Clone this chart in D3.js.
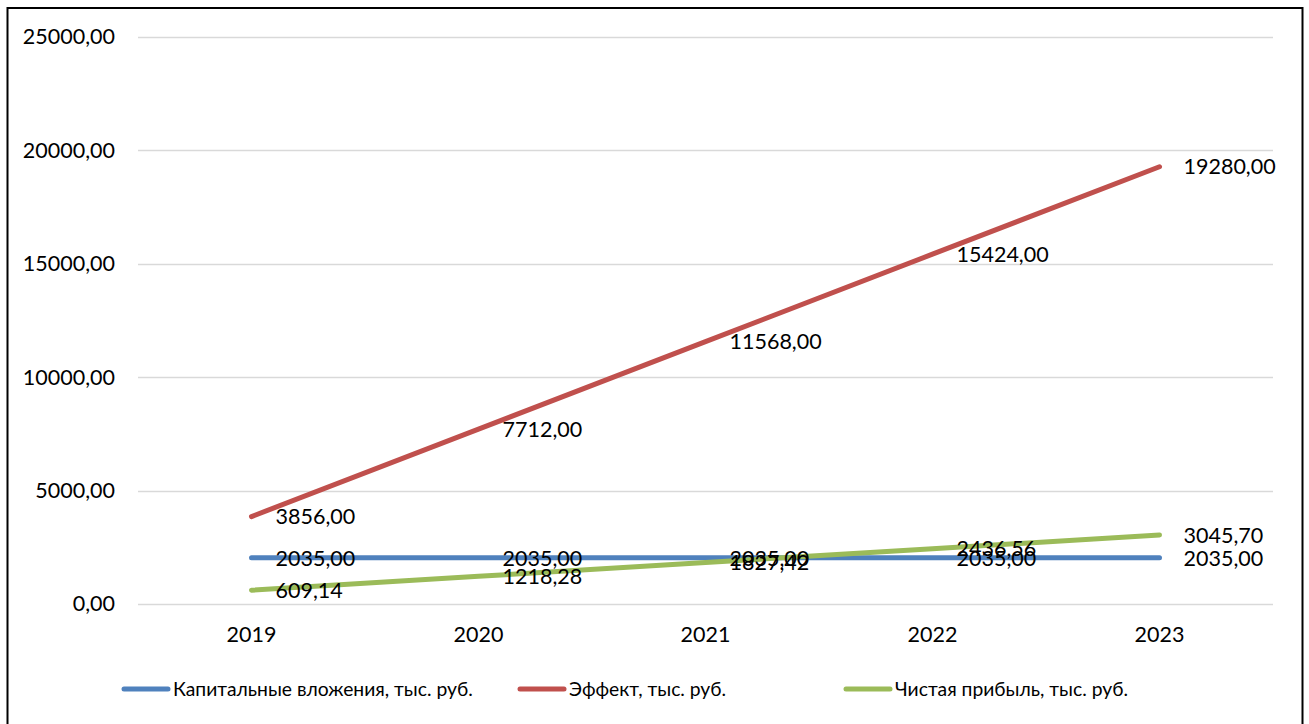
<!DOCTYPE html>
<html>
<head>
<meta charset="utf-8">
<script src="https://cdn.jsdelivr.net/npm/d3@7"></script>
<style>
  html, body { margin: 0; padding: 0; background: #fff; }
  svg { display: block; }
  text { font-family: Lato, "Open Sans", sans-serif; fill: #000; }
</style>
</head>
<body>
<svg id="chart" width="1309" height="724"></svg>
<script>
// Years on the x axis
const years = ["2019", "2020", "2021", "2022", "2023"];

// Series values, thousand roubles
const capital = [2035.00, 2035.00, 2035.00, 2035.00, 2035.00];
const effect = [3856.00, 7712.00, 11568.00, 15424.00, 19280.00];
const netProfit = [609.14, 1218.28, 1827.42, 2436.56, 3045.70];

// Series names for the legend
const seriesNames = [
  "Капитальные вложения, тыс. руб.",
  "Эффект, тыс. руб.",
  "Чистая прибыль, тыс. руб."
];

// Y axis ticks
const yTicks = [0, 5000, 10000, 15000, 20000, 25000];

const colors = ["#4F81BD", "#C0504D", "#9BBB59"];
const series = [capital, effect, netProfit].map((vals, i) => ({
  name: seriesNames[i],
  color: colors[i],
  values: vals
}));

const fmt = v => d3.format(".2f")(v).replace(".", ",");
const numSize = 21.5;
const legendSize = 19.3;

const svg = d3.select("#chart");

// Outer frame
svg.append("rect")
  .attr("x", 7.5).attr("y", 8)
  .attr("width", 1295).attr("height", 740)
  .attr("fill", "none")
  .attr("stroke", "#000")
  .attr("stroke-width", 2);

const plot = { left: 138, right: 1273, top: 37, bottom: 604 };

const x = d3.scaleBand()
  .domain(years)
  .range([plot.left, plot.right]);
const xc = d => x(d) + x.bandwidth() / 2;

const y = d3.scaleLinear()
  .domain([0, 25000])
  .range([plot.bottom, plot.top]);

// Horizontal gridlines
svg.append("g")
  .selectAll("line")
  .data(yTicks)
  .join("line")
  .attr("x1", plot.left).attr("x2", plot.right)
  .attr("y1", d => Math.round(y(d)) + 0.5)
  .attr("y2", d => Math.round(y(d)) + 0.5)
  .attr("stroke", "#D9D9D9")
  .attr("stroke-width", 1.5);

// Y axis labels
const yAxis = d3.axisLeft(y).tickValues(yTicks).tickFormat(fmt).tickSize(0).tickPadding(0);
const gy = svg.append("g")
  .attr("transform", `translate(115,0)`)
  .call(yAxis);
gy.select(".domain").remove();
gy.selectAll("text")
  .attr("font-size", numSize)
  .attr("font-family", "Lato, 'Open Sans', sans-serif")
  .attr("fill", "#000");

// X axis labels
const xAxis = d3.axisBottom(x).tickSize(0).tickPadding(0);
const gx = svg.append("g")
  .attr("transform", `translate(0,${plot.bottom + 23})`)
  .call(xAxis);
gx.select(".domain").remove();
gx.selectAll("text")
  .attr("font-size", numSize)
  .attr("font-family", "Lato, 'Open Sans', sans-serif")
  .attr("fill", "#000");

// Lines
const line = d3.line()
  .x((d, i) => xc(years[i]))
  .y(d => y(d));

svg.append("g")
  .selectAll("path")
  .data(series)
  .join("path")
  .attr("d", s => line(s.values))
  .attr("fill", "none")
  .attr("stroke", s => s.color)
  .attr("stroke-width", 5)
  .attr("stroke-linecap", "round")
  .attr("stroke-linejoin", "round");

// Data labels, to the right of each point
series.forEach(s => {
  svg.append("g")
    .selectAll("text")
    .data(s.values)
    .join("text")
    .attr("x", (d, i) => xc(years[i]) + 24)
    .attr("y", d => y(d))
    .attr("dy", "0.36em")
    .attr("font-size", numSize)
    .text(d => fmt(d));
});

// Legend
const legendItems = [
  { x0: 122 },
  { x0: 518 },
  { x0: 844 }
];
const lg = svg.append("g");
series.forEach((s, i) => {
  const g = lg.append("g").attr("transform", `translate(${legendItems[i].x0},689)`);
  g.append("line")
    .attr("x1", 2).attr("x2", 46)
    .attr("y1", 0).attr("y2", 0)
    .attr("stroke", s.color)
    .attr("stroke-width", 5)
    .attr("stroke-linecap", "round");
  g.append("text")
    .attr("x", 51)
    .attr("y", 0)
    .attr("dy", "0.36em")
    .attr("font-size", legendSize)
    .text(s.name);
});
</script>
</body>
</html>
